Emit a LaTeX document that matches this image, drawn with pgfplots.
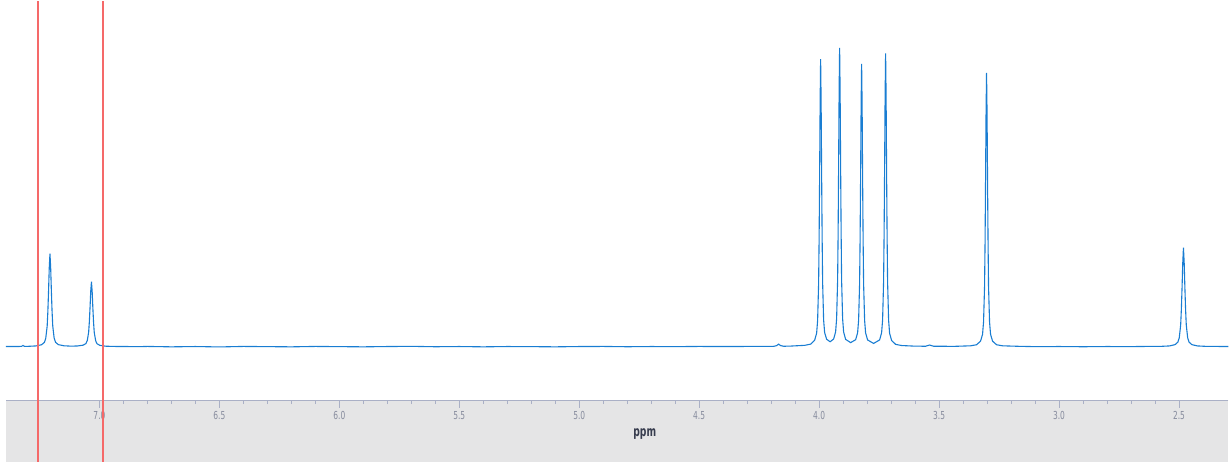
\documentclass[border=0pt]{standalone}
\usepackage{pgfplots}
\pgfplotsset{compat=1.18}
\usepackage{fontspec}
\setmainfont{DejaVu Sans}
\newfontfamily\tickfont[FakeStretch=0.68]{DejaVu Sans}
\newfontfamily\labfont[FakeStretch=0.66]{DejaVu Sans}
\definecolor{spec}{RGB}{25,125,210}
\definecolor{redl}{RGB}{245,105,105}
\definecolor{band}{RGB}{229,229,230}
\definecolor{axl}{RGB}{170,176,198}
\definecolor{tickc}{RGB}{135,140,158}
\definecolor{labc}{RGB}{55,60,78}
\begin{document}
\begin{tikzpicture}
\fill[band] (0pt,-61pt) rectangle (1223pt,0pt);
\path (-6pt,-61pt) rectangle (1223pt,400pt);
\begin{axis}[
  scale only axis, width=1223pt, height=400pt,
  x dir=reverse, xmin=2.2938, xmax=7.3896,
  ymin=-54, ymax=346,
  clip=false,
  axis x line=bottom, axis y line=none,
  x axis line style={draw=axl, line width=1pt, -},
  xtick={2.5,3,...,7}, minor x tick num=4,
  tick align=outside,
  major tick length=7pt, minor tick length=3.5pt,
  every tick/.style={draw=axl, line width=0.8pt},
  xticklabel style={font=\tickfont\fontsize{11}{13}\selectfont, text=tickc},
  /pgf/number format/.cd, fixed, fixed zerofill, precision=1, assume math mode=true,
  /pgfplots/.cd,
  xlabel={\labfont\bfseries ppm},
  xlabel style={at={(axis description cs:0.5225,0)}, anchor=center, yshift=-33pt,
    font=\fontsize{14}{16}\selectfont, text=labc},
]
\addplot[spec, line width=1.1pt] coordinates {
(7.3896,0.1) (7.3521,0.15) (7.3250,0.2) (7.3188,1.2) (7.3120,0.2) (7.2979,0.3) (7.2646,0.7)
(7.2413,1.9) (7.2296,4.2) (7.2238,8.4) (7.2179,20.5) (7.2150,35.3) (7.2121,55.8)
(7.2092,79) (7.2063,93) (7.2033,79) (7.2004,55.8) (7.1975,35.3) (7.1946,20.6)
(7.1888,8.5) (7.1829,4.3) (7.1713,2.0) (7.1479,0.85) (7.1188,0.5) (7.0917,0.65)
(7.0683,1.45) (7.0567,3.0) (7.0508,6.0) (7.0450,14.4) (7.0421,24.8) (7.0392,39.1)
(7.0363,55.3) (7.0333,65) (7.0304,55.3) (7.0275,39) (7.0246,24.7) (7.0217,14.3)
(7.0158,5.9) (7.0100,2.9) (6.9983,1.3) (6.9750,0.45) (6.9417,0.2) (6.8313,0)
(6.80,0.2) (6.70,-0.2) (6.60,0.1) (6.50,-0.3) (6.40,0.2) (6.30,0) (6.20,-0.2)
(6.10,0.2) (6.00,0) (5.90,-0.2) (5.80,0.1) (5.70,0.3) (5.60,-0.1) (5.50,0.1)
(5.40,-0.2) (5.30,0.1) (5.20,0) (5.10,-0.2) (5.00,0.1) (4.90,0.2) (4.80,-0.1)
(4.70,0.1) (4.60,0) (4.50,0.2) (4.40,0.1) (4.30,0.2)
(4.2479,0.3) (4.1896,0.3) (4.1771,1.0) (4.1688,2.5) (4.1604,1.0) (4.1479,0.4)
(4.1229,0.5) (4.0604,1.3) (4.0354,2.5) (4.0188,6.3) (4.0104,13.5) (4.0063,26.2)
(4.0021,63.6) (4.0000,109.6) (3.9979,172.7) (3.9958,244.5) (3.9938,287.7)
(3.9917,244.7) (3.9896,172.9) (3.9875,109.8) (3.9854,64.0) (3.9813,26.7)
(3.9771,14.1) (3.9688,7.4) (3.9542,4.9) (3.9396,7.6) (3.9313,14.7) (3.9271,28.0)
(3.9229,66.8) (3.9208,114.4) (3.9188,180.0) (3.9167,254.5) (3.9146,299.0)
(3.9125,254.4) (3.9104,180.0) (3.9083,114.3) (3.9063,66.7) (3.9021,28.0)
(3.8979,14.6) (3.8896,7.3) (3.8688,4.0) (3.8479,6.9) (3.8396,13.8) (3.8354,26.5)
(3.8313,63.1) (3.8292,108.3) (3.8271,170.3) (3.8250,240.8) (3.8229,283.0)
(3.8208,240.8) (3.8188,170.3) (3.8167,108.3) (3.8146,63.0) (3.8104,26.4)
(3.8063,13.7) (3.7979,6.7) (3.7729,3.2) (3.7479,6.7) (3.7396,13.8) (3.7354,26.9)
(3.7313,65.0) (3.7292,111.8) (3.7271,176.3) (3.7250,249.5) (3.7229,293.5)
(3.7208,249.3) (3.7188,176.1) (3.7167,111.6) (3.7146,64.7) (3.7104,26.6)
(3.7063,13.4) (3.6979,6.2) (3.6813,2.3) (3.6563,1.1) (3.6021,0.5) (3.5563,0.4)
(3.5396,1.6) (3.5229,0.4) (3.4354,0.3) (3.3688,0.82) (3.3438,1.9) (3.3271,5.5)
(3.3188,12.3) (3.3146,24.7) (3.3104,60.3) (3.3083,104.1) (3.3063,164.4)
(3.3042,232.9) (3.3021,274) (3.3000,232.9) (3.2979,164.4) (3.2958,104.1)
(3.2938,60.3) (3.2896,24.7) (3.2854,12.3) (3.2771,5.5) (3.2604,1.9) (3.2354,0.82)
(3.1646,0.3) (3.10,0) (2.9979,0.1) (2.90,-0.1) (2.80,0.1) (2.70,0)
(2.6646,0.15) (2.5729,0.3) (2.5396,0.7) (2.5163,2.0) (2.5046,4.5) (2.4988,8.9)
(2.4929,21.8) (2.4900,37.6) (2.4871,59.4) (2.4842,84) (2.4813,99) (2.4783,84)
(2.4754,59.4) (2.4725,37.6) (2.4696,21.8) (2.4638,8.9) (2.4579,4.5) (2.4463,2.0)
(2.4229,0.7) (2.3896,0.3) (2.2938,0.1)
};
\addplot[redl, line width=1.6pt] coordinates {(7.256,-115) (7.256,346)};
\addplot[redl, line width=1.6pt] coordinates {(6.985,-115) (6.985,346)};
\end{axis}
\end{tikzpicture}
\end{document}
